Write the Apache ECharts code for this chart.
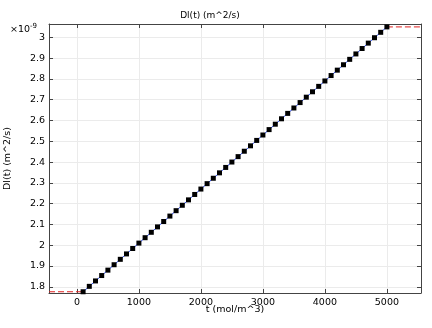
<!DOCTYPE html>
<html>
<head>
<meta charset="utf-8">
<script src="https://cdn.jsdelivr.net/npm/echarts@6.0.0/dist/echarts.min.js"></script>
<style>
  html, body { margin: 0; padding: 0; background: #fff; }
  #main { width: 432px; height: 328px; }
</style>
</head>
<body>
<div id="main"></div>
<script>
// t (mol/m^3) and Dl(t) in units of 1e-9 m^2/s
var tValues = [100, 200, 300, 400, 500, 600, 700, 800, 900, 1000,
  1100, 1200, 1300, 1400, 1500, 1600, 1700, 1800, 1900, 2000,
  2100, 2200, 2300, 2400, 2500, 2600, 2700, 2800, 2900, 3000,
  3100, 3200, 3300, 3400, 3500, 3600, 3700, 3800, 3900, 4000,
  4100, 4200, 4300, 4400, 4500, 4600, 4700, 4800, 4900, 5000];
var dlValues = [1.776, 1.802, 1.828, 1.854, 1.88, 1.906, 1.932, 1.958, 1.984, 2.01,
  2.036, 2.062, 2.088, 2.114, 2.14, 2.166, 2.192, 2.218, 2.244, 2.27,
  2.296, 2.322, 2.348, 2.374, 2.4, 2.426, 2.452, 2.478, 2.504, 2.53,
  2.556, 2.582, 2.608, 2.634, 2.66, 2.686, 2.712, 2.738, 2.764, 2.79,
  2.816, 2.842, 2.868, 2.894, 2.92, 2.946, 2.972, 2.998, 3.024, 3.05];

// constant extrapolation outside the data range
var extLeftT = [-450, 100];
var extLeftDl = [1.776, 1.776];
var extRightT = [5000, 5550];
var extRightDl = [3.05, 3.05];

var xTicks = [0, 1000, 2000, 3000, 4000, 5000];
var yTicks = [1.8, 1.9, 2, 2.1, 2.2, 2.3, 2.4, 2.5, 2.6, 2.7, 2.8, 2.9, 3];

var xMin = -450, xMax = 5550;
var yMin = 1.77, yMax = 3.064;

function pairs(xs, ys) {
  return xs.map(function (x, i) { return [x, ys[i]]; });
}

var chartDom = document.getElementById('main');
var myChart = echarts.init(chartDom);

var font = 'DejaVu Sans';
var frameColor = '#444';
var gridColor = '#ebebeb';

function xAxisDef(pos, showLabels) {
  return {
    type: 'value',
    position: pos,
    min: xMin,
    max: xMax,
    name: showLabels ? 't (mol/m^3)' : '',
    nameLocation: 'middle',
    nameGap: 12,
    nameMoveOverlap: false,
    nameTextStyle: { fontFamily: font, fontSize: 9.5, color: '#000' },
    axisLine: { show: true, onZero: false, lineStyle: { color: frameColor, width: 1 } },
    axisTick: { show: true, inside: true, length: 4, customValues: xTicks, lineStyle: { color: frameColor } },
    axisLabel: {
      show: showLabels, customValues: xTicks, margin: 5, fontFamily: font, fontSize: 9.5, color: '#000',
      formatter: function (v) { return String(v); }
    },
    splitLine: { show: showLabels, lineStyle: { color: gridColor, width: 1 } }
  };
}

function yAxisDef(pos, showLabels) {
  return {
    type: 'value',
    position: pos,
    min: yMin,
    max: yMax,
    name: showLabels ? 'Dl(t) (m^2/s)' : '',
    nameLocation: 'middle',
    nameGap: 36,
    nameMoveOverlap: false,
    nameTextStyle: { fontFamily: font, fontSize: 9.5, color: '#000' },
    axisLine: { show: true, onZero: false, lineStyle: { color: frameColor, width: 1 } },
    axisTick: { show: true, inside: true, length: 4, customValues: yTicks, lineStyle: { color: frameColor } },
    axisLabel: {
      show: showLabels, customValues: yTicks, margin: 4, fontFamily: font, fontSize: 9.5, color: '#000',
      formatter: function (v) { return String(Math.round(v * 10) / 10); }
    },
    splitLine: { show: showLabels, lineStyle: { color: gridColor, width: 1 } }
  };
}

var option = {
  animation: false,
  backgroundColor: '#fff',
  title: {
    text: 'Dl(t) (m^2/s)',
    left: 210,
    textAlign: 'center',
    top: 11,
    padding: 0,
    textStyle: { fontFamily: font, fontSize: 9, fontWeight: 'normal', color: '#000' }
  },
  graphic: [{
    type: 'text',
    left: 10,
    top: 23,
    style: {
      text: '×10{sup|-9}',
      fontFamily: font,
      fontSize: 9.5,
      fill: '#000',
      rich: { sup: { fontFamily: font, fontSize: 7, verticalAlign: 'top', padding: [0, 0, 6, 0] } }
    }
  }],
  grid: { left: 49, top: 24, right: 11, bottom: 35, outerBoundsMode: 'none' },
  xAxis: [xAxisDef('bottom', true), xAxisDef('top', false)],
  yAxis: [yAxisDef('left', true), yAxisDef('right', false)],
  series: [
    {
      type: 'line',
      data: pairs(extLeftT, extLeftDl),
      symbol: 'none',
      lineStyle: { color: '#e02020', width: 1, type: [6, 3] },
      z: 2
    },
    {
      type: 'line',
      data: pairs(extRightT, extRightDl),
      symbol: 'none',
      lineStyle: { color: '#e02020', width: 1, type: [6, 3] },
      z: 2
    },
    {
      type: 'line',
      data: pairs(tValues, dlValues),
      symbol: 'rect',
      symbolSize: 5,
      itemStyle: { color: '#000' },
      lineStyle: { color: '#3355ff', width: 1 },
      z: 3
    }
  ]
};

myChart.setOption(option);
</script>
</body>
</html>
